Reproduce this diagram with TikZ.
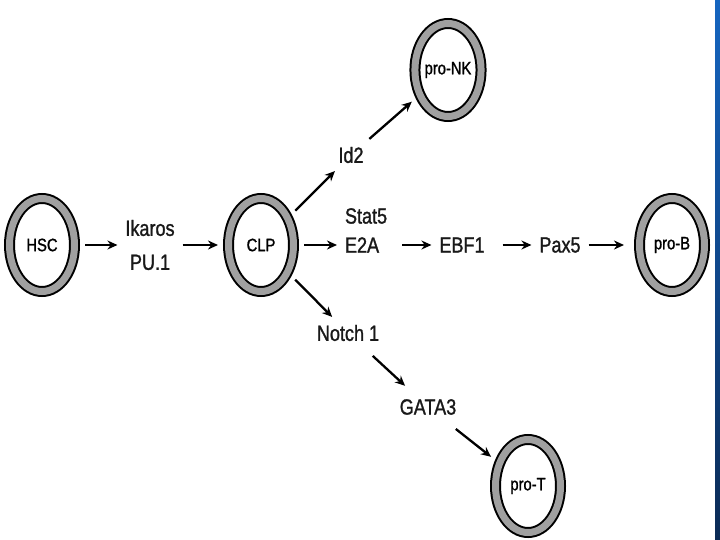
\documentclass[tikz,border=0pt]{standalone}
\usepackage{fontspec}
\setmainfont{Liberation Sans}[FakeStretch=0.82, FakeBold=1.2]
\usetikzlibrary{shapes.geometric, arrows.meta}
\definecolor{ringgray}{HTML}{A0A0A0}
\definecolor{barblue}{HTML}{1565C0}
\definecolor{barnavy}{HTML}{0B2A55}

\begin{document}
\begin{tikzpicture}[x=1pt, y=-1pt,
    cell/.style={ellipse, draw=black, line width=2pt, double=ringgray, double distance=7pt,
        fill=white, minimum width=65pt, minimum height=93pt, inner sep=0pt, outer sep=10.5pt,
        font=\fontsize{18}{20}\selectfont},
    gene/.style={inner sep=3pt, outer sep=5pt, text=black!90, font=\fontsize{22}{26}\selectfont},
    arr/.style={-{Stealth[length=10pt, width=9pt]}, line width=2.3pt}]
    \useasboundingbox (0,0) rectangle (720,540);
    % Side bar
    \shade[top color=barblue, bottom color=barnavy] (715,0) rectangle (720,540);

    % Cells
    \node[cell] (hsc) at (42,245) {HSC};
    \node[cell] (clp) at (261,245) {CLP};
    \node[cell] (pronk) at (448,70) {pro-NK};
    \node[cell] (prob) at (672,245) {pro-B};
    \node[cell] (prot) at (528,486) {pro-T};

    % Factors
    \node[gene, align=center] (ikaros) at (150,245) {Ikaros\\[8pt]PU.1};
    \node[gene] (id2) at (351,155) {Id2};
    \node[gene, anchor=west] (stat5) at (337,216) {Stat5};
    \node[gene, anchor=west] (e2a) at (337,245) {E2A};
    \node[gene] (ebf1) at (462,245) {EBF1};
    \node[gene] (pax5) at (560,245) {Pax5};
    \node[gene] (notch) at (348,333) {Notch 1};
    \node[gene] (gata) at (428,407) {GATA3};

    % Arrows
    \draw[arr] (hsc) -- (ikaros);
    \draw[arr] (ikaros) -- (clp);
    \draw[arr] (clp) -- (id2);
    \draw[arr] (id2) -- (pronk);
    \draw[arr] (clp) -- (e2a);
    \draw[arr, shorten <=15pt] (e2a) -- (ebf1);
    \draw[arr, shorten <=10pt] (ebf1) -- (pax5);
    \draw[arr, shorten >=5pt] (pax5) -- (prob);
    \draw[arr] (clp) -- (notch);
    \draw[arr, shorten <=10pt, shorten >=8pt] (notch) -- (gata);
    \draw[arr, shorten <=10pt] (gata) -- (prot);
\end{tikzpicture}
\end{document}
